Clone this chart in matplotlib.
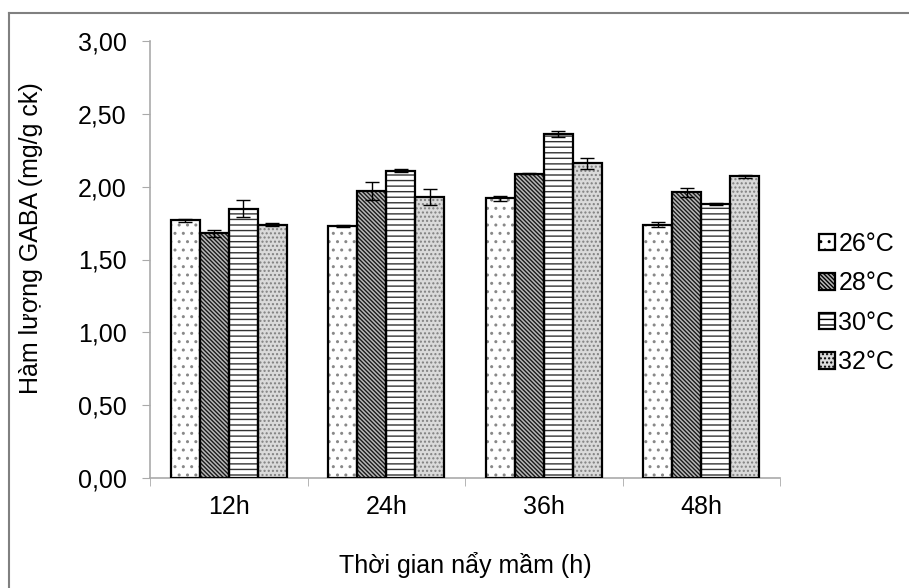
import matplotlib
matplotlib.use("Agg")
import matplotlib.pyplot as plt
from matplotlib.patches import Patch
from matplotlib.lines import Line2D
import numpy as np

plt.rcParams['font.family'] = ['Liberation Sans', 'DejaVu Sans']
plt.rcParams['hatch.linewidth'] = 1.0

thoi_gian = ["12h", "24h", "36h", "48h"]
nhiet_do = ["26°C", "28°C", "30°C", "32°C"]

gaba = {
    "26°C": [1.77, 1.73, 1.92, 1.74],
    "28°C": [1.68, 1.97, 2.09, 1.96],
    "30°C": [1.85, 2.11, 2.36, 1.88],
    "32°C": [1.74, 1.93, 2.16, 2.07],
}
sai_so = {
    "26°C": [0.01, 0.005, 0.015, 0.02],
    "28°C": [0.025, 0.06, 0.005, 0.03],
    "30°C": [0.06, 0.01, 0.02, 0.005],
    "32°C": [0.01, 0.055, 0.04, 0.01],
}

# kieu to cho tung cot: (mau nen, hoa van, mau hoa van)
kieu = {
    "26°C": ("white", "..", "#888888"),
    "28°C": ("#b8b8b8", "\\\\\\\\\\\\\\\\", "#1a1a1a"),
    "30°C": ("white", "---", "#333333"),
    "32°C": ("#dadada", "....", "#808080"),
}

fig = plt.figure(figsize=(9.09, 5.88), dpi=100)
ax = fig.add_axes([150 / 909, 1 - 478 / 588, 630 / 909, 437 / 588])

x = np.arange(len(thoi_gian))
w = 0.184
for i, t in enumerate(nhiet_do):
    pos = x + (i - 1.5) * w
    fc, hatch, hc = kieu[t]
    ax.bar(pos, gaba[t], w, color=fc, hatch=hatch, edgecolor=hc, linewidth=0, zorder=2)
    ax.bar(pos, gaba[t], w, fill=False, edgecolor="black", linewidth=1.6, zorder=3)
    ax.errorbar(pos, gaba[t], yerr=sai_so[t], fmt="none", ecolor="black",
                elinewidth=1.0, capsize=5, capthick=1.0, zorder=4)

ax.set_ylim(0, 3)
ax.set_xlim(-0.5, 3.5)
ax.set_yticks(np.arange(0, 3.01, 0.5))
ax.set_yticklabels([f"{v:.2f}".replace(".", ",") for v in np.arange(0, 3.01, 0.5)])
ax.set_xticks(x)
ax.set_xticklabels(thoi_gian)
ax.set_xticks(np.arange(-0.5, 3.6, 1), minor=True)
ax.tick_params(axis="x", which="major", length=0, pad=12, labelsize=18)
ax.tick_params(axis="x", which="minor", length=6, color="#aaaaaa", direction="out")
ax.tick_params(axis="y", length=6, color="#aaaaaa", pad=11, labelsize=18)

for s in ["top", "right"]:
    ax.spines[s].set_visible(False)
for s in ["left", "bottom"]:
    ax.spines[s].set_color("#aaaaaa")
    ax.spines[s].set_linewidth(1.2)

ax.set_ylabel("Hàm lượng GABA (mg/g ck)", fontsize=18)
ax.yaxis.set_label_coords(-0.17, 0.55)
fig.text(465 / 909, 1 - 565 / 588, "Thời gian nẩy mầm (h)", fontsize=18,
         ha="center", va="center")

handles = []
for t in nhiet_do:
    fc, hatch, hc = kieu[t]
    handles.append(Patch(facecolor=fc, hatch=hatch, edgecolor="black", linewidth=1.6, label=t))
fig.legend(handles=handles, loc="center left", bbox_to_anchor=(819 / 909, 1 - 303 / 588),
           frameon=False, fontsize=18, handlelength=0.62, handleheight=0.62,
           handletextpad=0.15, labelspacing=0.62, borderpad=0, borderaxespad=0)

# khung vien hinh
fig.add_artist(Line2D([9 / 909, 9 / 909], [0, 1 - 13 / 588], color="#808080",
                      linewidth=1.5, transform=fig.transFigure))
fig.add_artist(Line2D([9 / 909, 1], [1 - 13 / 588, 1 - 13 / 588], color="#808080",
                      linewidth=1.5, transform=fig.transFigure))

fig.savefig("out.png", dpi=100)
